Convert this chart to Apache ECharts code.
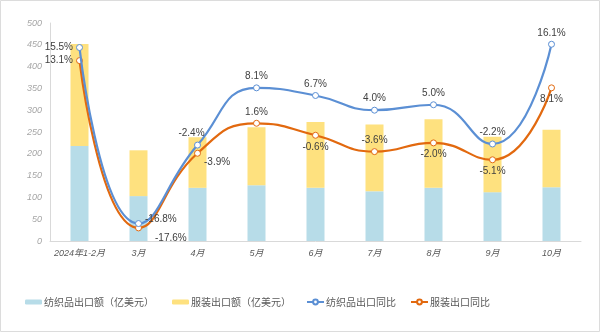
<!DOCTYPE html>
<html><head><meta charset="utf-8">
<script src="https://cdn.jsdelivr.net/npm/echarts@6/dist/echarts.min.js"></script>
<style>html,body{margin:0;padding:0;background:#fff}#c{width:600px;height:332px}</style>
</head><body><div id="c"></div>
<script>
const categories = ['2024年1-2月','3月','4月','5月','6月','7月','8月','9月','10月'];
const textileExport = [218, 103, 122, 128, 122, 114, 122, 112, 123];
const apparelExport = [234, 105, 116, 133, 151, 153, 157, 127, 132];
const textileYoY = [15.5, -16.8, -2.4, 8.1, 6.7, 4.0, 5.0, -2.2, 16.1];
const apparelYoY = [13.1, -17.6, -3.9, 1.6, -0.6, -3.6, -2.0, -5.1, 8.1];
const leftTicks = [0, 500, 50];

const textileLabelPos = ['left','right','top','top','top','top','top','top','top'];
const apparelLabelPos = ['left','right','right','top','bottom','top','bottom','bottom','bottom'];
const textileOff = [[0,0],[0,-4],[-6,0],[0,0],[0,0],[0,0],[0,0],[0,0],[0,0]];
const apparelOff = [[0,0],[10,10],[0,9],[0,0],[0,0],[0,0],[0,0],[0,0],[0,0]];

const FONT = '"Liberation Sans", "Noto Sans CJK SC", sans-serif';
const BLUE = '#5b8fd4', ORANGE = '#e2690f', BAR1 = '#b7dce8', BAR2 = '#fee17f';

function lineData(vals, pos, off) {
  return vals.map((v, i) => ({ value: v, label: { position: pos[i], offset: off[i] } }));
}
const lbl = { show: true, formatter: p => p.value.toFixed(1) + '%', color: '#404040', fontSize: 10, fontFamily: FONT, distance: 3 };
const legendBase = { top: 292, itemWidth: 17, itemHeight: 5, itemGap: 0,
  textStyle: { color: '#595959', fontSize: 10, fontFamily: '"Noto Sans CJK SC", sans-serif', padding: [0,0,0,-3] } };

const chart = echarts.init(document.getElementById('c'), null, { renderer: 'canvas' });
chart.setOption({
  backgroundColor: '#fff',
  animation: false,
  grid: { left: 50, right: 19, top: 23, bottom: 91, containLabel: false },
  legend: [
    Object.assign({ left: 20, data: ['纺织品出口额（亿美元）'] }, legendBase),
    Object.assign({ left: 167, data: ['服装出口额（亿美元）'] }, legendBase),
    Object.assign({ left: 301, data: ['纺织品出口同比'] }, legendBase, { itemHeight: 6 }),
    Object.assign({ left: 405, data: ['服装出口同比'] }, legendBase, { itemHeight: 6 })
  ],
  graphic: [{ type: 'rect', shape: { x: 0.5, y: 0.5, width: 599, height: 331 }, style: { fill: 'none', stroke: '#dcdcdc', lineWidth: 1 }, silent: true }],
  xAxis: {
    type: 'category', data: categories,
    axisLine: { lineStyle: { color: '#d9d9d9' } }, axisTick: { show: false },
    axisLabel: { color: '#595959', fontSize: 9, fontStyle: 'italic', fontFamily: FONT, margin: 8, interval: 0 }
  },
  yAxis: [
    { type: 'value', min: leftTicks[0], max: leftTicks[1], interval: leftTicks[2],
      axisLine: { show: true, lineStyle: { color: '#d9d9d9' } }, axisTick: { show: false }, splitLine: { show: false },
      axisLabel: { color: '#a6a6a6', fontSize: 9, fontStyle: 'italic', fontFamily: FONT, margin: 8 } },
    { type: 'value', min: -20, max: 20, show: false, splitLine: { show: false } }
  ],
  series: [
    { name: '纺织品出口额（亿美元）', type: 'bar', stack: 'a', data: textileExport, barWidth: 18, itemStyle: { color: BAR1 } },
    { name: '服装出口额（亿美元）', type: 'bar', stack: 'a', data: apparelExport, barWidth: 18, itemStyle: { color: BAR2 } },
    { name: '纺织品出口同比', type: 'line', yAxisIndex: 1, smooth: 0.5, data: lineData(textileYoY, textileLabelPos, textileOff),
      symbol: 'circle', symbolSize: 6, lineStyle: { color: BLUE, width: 2.2 }, itemStyle: { color: '#fff', borderColor: BLUE, borderWidth: 1 },
      label: lbl, z: 5 },
    { name: '服装出口同比', type: 'line', yAxisIndex: 1, smooth: 0.5, data: lineData(apparelYoY, apparelLabelPos, apparelOff),
      symbol: 'circle', symbolSize: 6, lineStyle: { color: ORANGE, width: 2.2 }, itemStyle: { color: '#fff', borderColor: ORANGE, borderWidth: 1 },
      label: lbl, z: 4 }
  ]
});
</script></body></html>
